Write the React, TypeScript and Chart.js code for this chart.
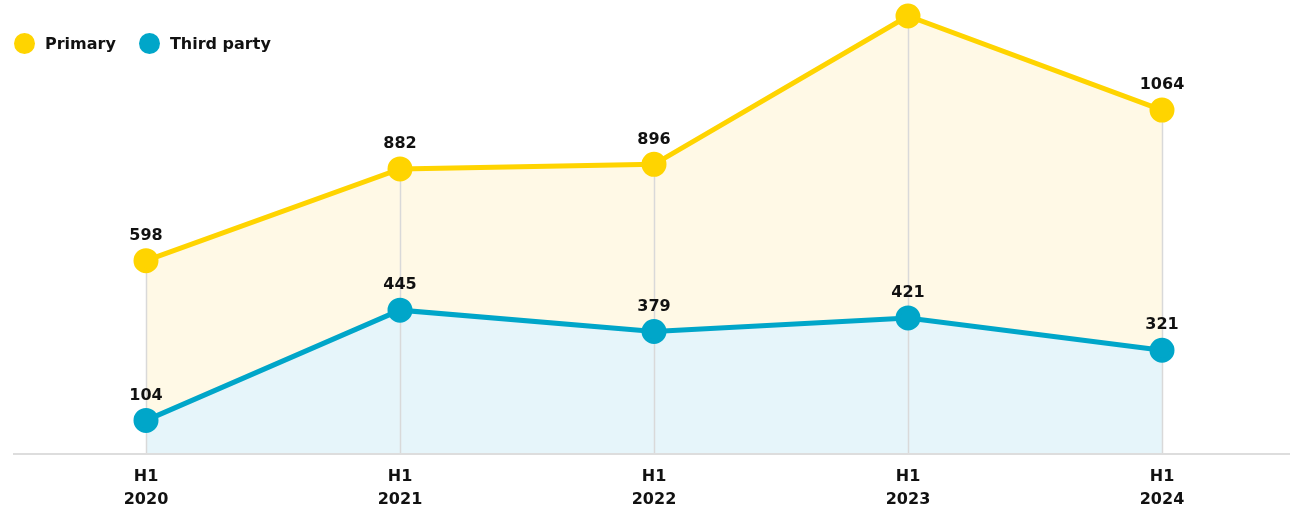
import React, { useEffect, useRef } from "react";
import { Chart, registerables } from "chart.js";

Chart.register(...registerables);

const categories: string[][] = [["H1", "2020"], ["H1", "2021"], ["H1", "2022"], ["H1", "2023"], ["H1", "2024"]];
const primaryValues: number[] = [598, 882, 896, 1355, 1064];
const thirdPartyValues: number[] = [104, 445, 379, 421, 321];
const seriesNames: string[] = ["Primary", "Third party"];

const YELLOW = "#FFD400";
const BLUE = "#00A6C9";
const YELLOW_FILL = "#FFF9E6";
const BLUE_FILL = "#E6F5FA";
const FONT = "'DejaVu Sans', sans-serif";

const overlayPlugin = {
  id: "overlay",
  beforeDatasetsDraw(chart: any) {
    const { ctx, chartArea } = chart;
    const meta = chart.getDatasetMeta(0);
    ctx.save();
    ctx.strokeStyle = "#D9D9D9";
    ctx.lineWidth = 1.5;
    meta.data.forEach((pt: any) => {
      ctx.beginPath();
      ctx.moveTo(Math.round(pt.x) + 0.5, pt.y);
      ctx.lineTo(Math.round(pt.x) + 0.5, chartArea.bottom);
      ctx.stroke();
    });
    ctx.strokeStyle = "#DDDDDD";
    ctx.lineWidth = 2;
    ctx.beginPath();
    ctx.moveTo(chartArea.left - 6, chartArea.bottom);
    ctx.lineTo(chartArea.right + 1, chartArea.bottom);
    ctx.stroke();
    ctx.restore();
  },
  afterDatasetsDraw(chart: any) {
    const { ctx } = chart;
    ctx.save();
    ctx.font = `bold 16px ${FONT}`;
    ctx.fillStyle = "#111111";
    ctx.textAlign = "center";
    ctx.textBaseline = "middle";
    chart.data.datasets.forEach((ds: any, i: number) => {
      const meta = chart.getDatasetMeta(i);
      meta.data.forEach((pt: any, j: number) => {
        const y = pt.y - 25;
        if (y - 8 < 0) return;
        ctx.fillText(String(ds.data[j]), pt.x, y);
      });
    });
    ctx.restore();
  },
};

export default function App() {
  const ref = useRef<HTMLCanvasElement | null>(null);
  useEffect(() => {
    document.body.style.margin = "0";
    if (!ref.current) return;
    const chart = new Chart(ref.current, {
      type: "line",
      data: {
        labels: categories,
        datasets: [
          {
            label: seriesNames[0],
            data: primaryValues,
            borderColor: YELLOW,
            backgroundColor: YELLOW_FILL,
            pointBackgroundColor: YELLOW,
            pointBorderColor: YELLOW,
            borderWidth: 5,
            pointRadius: 10,
            fill: "origin",
            tension: 0,
            clip: false,
            order: 1,
          },
          {
            label: seriesNames[1],
            data: thirdPartyValues,
            borderColor: BLUE,
            backgroundColor: BLUE_FILL,
            pointBackgroundColor: BLUE,
            pointBorderColor: BLUE,
            borderWidth: 5,
            pointRadius: 10,
            fill: "origin",
            tension: 0,
            clip: false,
            order: 0,
          },
        ],
      },
      options: {
        animation: false,
        responsive: false,
        layout: { autoPadding: false, padding: { top: 16, left: 19, right: 5, bottom: 0 } },
        plugins: {
          legend: { display: false },
          tooltip: { enabled: false },
          filler: { drawTime: "beforeDatasetsDraw" },
        },
        scales: {
          x: {
            offset: true,
            grid: { display: false, drawTicks: false },
            border: { display: false },
            ticks: {
              color: "#111111",
              font: { family: FONT, size: 16, weight: "bold", lineHeight: 1.4 },
              padding: 12,
            },
            afterFit(scale: any) {
              scale.height = 58;
            },
          },
          y: { display: false, min: 0, max: 1355 },
        },
      },
      plugins: [overlayPlugin],
    } as any);
    return () => chart.destroy();
  }, []);

  const legendItem = (color: string, text: string) => (
    <div style={{ display: "flex", alignItems: "center", marginRight: 23 }}>
      <span style={{ width: 21, height: 21, borderRadius: "50%", background: color, display: "inline-block", marginRight: 10 }} />
      <span style={{ fontFamily: FONT, fontWeight: 700, fontSize: 16, color: "#111" }}>{text}</span>
    </div>
  );

  return (
    <div style={{ position: "relative", width: 1294, height: 512 }}>
      <canvas ref={ref} width={1294} height={512} style={{ display: "block" }} />
      <div style={{ position: "absolute", left: 14, top: 33, display: "flex" }}>
        {legendItem(YELLOW, seriesNames[0])}
        {legendItem(BLUE, seriesNames[1])}
      </div>
    </div>
  );
}
